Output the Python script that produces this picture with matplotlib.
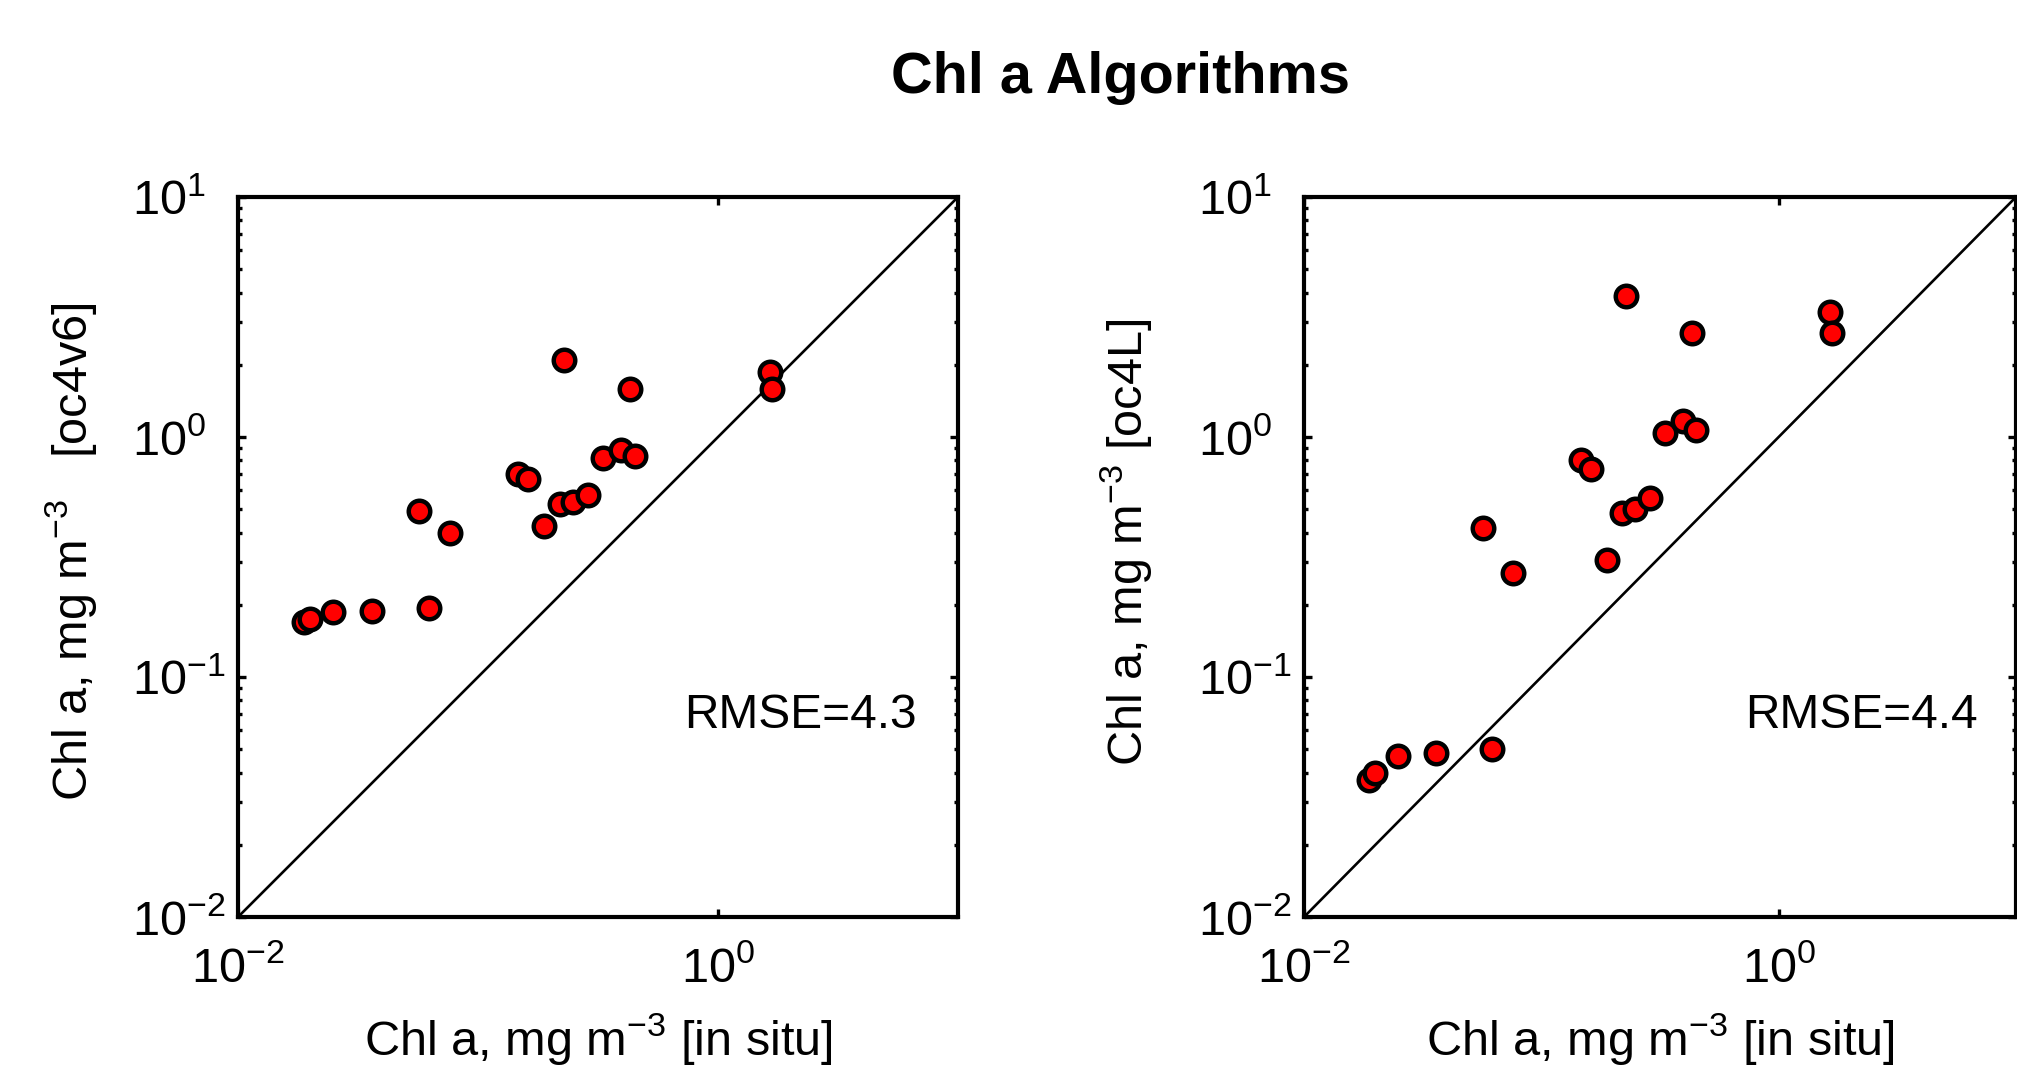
"""Chl a algorithm comparison: satellite retrieval vs in situ chlorophyll."""

import matplotlib

matplotlib.use("Agg")
import matplotlib.pyplot as plt
from matplotlib.ticker import LogLocator, NullFormatter, NullLocator

plt.rcParams["font.family"] = ["Liberation Sans", "DejaVu Sans"]
plt.rcParams["mathtext.fontset"] = "custom"
plt.rcParams["mathtext.rm"] = "Liberation Sans"
plt.rcParams["mathtext.it"] = "Liberation Sans:italic"
plt.rcParams["mathtext.bf"] = "Liberation Sans:bold"

# in situ Chl a (mg m^-3), shared by both panels
in_situ = [0.0188, 0.0200, 0.0248, 0.0360, 0.0570, 0.0622, 0.0763, 0.147, 0.162, 0.189,
           0.219, 0.228, 0.248, 0.287, 0.333, 0.394, 0.430, 0.449, 1.64, 1.68]
# retrieved Chl a, oc4v6
oc4v6 = [0.170, 0.175, 0.186, 0.188, 0.491, 0.193, 0.398, 0.701, 0.667, 0.424,
         0.528, 2.10, 0.537, 0.573, 0.820, 0.883, 1.59, 0.834, 1.87, 1.58]
# retrieved Chl a, oc4L
oc4l = [0.0371, 0.0399, 0.0468, 0.0481, 0.419, 0.0502, 0.271, 0.802, 0.734, 0.308,
        0.482, 3.87, 0.500, 0.556, 1.04, 1.17, 2.70, 1.07, 3.32, 2.70]

rmse_labels = ["RMSE=4.3", "RMSE=4.4"]
y_labels = [r"Chl a, mg m$^{-3}$   [oc4v6]", r"Chl a, mg m$^{-3}$ [oc4L]"]
x_label = r"Chl a, mg m$^{-3}$ [in situ]"
title = "Chl a Algorithms"

W, H = 2017, 1069
AX_BOTTOM, AX_H = 917, 720


def draw_panel(fig, left_px, width_px, yvals, ylabel, rmse, ylab_px, ylab_y):
    ax = fig.add_axes([left_px / W, (H - AX_BOTTOM) / H, width_px / W, AX_H / H])
    ax.set_xscale("log")
    ax.set_yscale("log")
    ax.plot([1e-2, 1e1], [1e-2, 1e1], color="black", lw=1.9, zorder=2)
    ax.plot(in_situ, yvals, "o", ms=15.5, mfc="red", mec="black", mew=3.2,
            zorder=3, clip_on=False)
    ax.set_xlim(1e-2, 1e1)
    ax.set_ylim(1e-2, 1e1)

    ax.set_xticks([1e-2, 1e0])
    ax.xaxis.set_minor_locator(NullLocator())
    ax.yaxis.set_major_locator(LogLocator(base=10, numticks=10))
    ax.yaxis.set_minor_locator(LogLocator(base=10, subs=range(2, 10), numticks=20))
    ax.yaxis.set_minor_formatter(NullFormatter())

    ax.tick_params(which="both", direction="in", top=True, right=True,
                   width=2.4, color="black", labelsize=35)
    ax.tick_params(which="major", length=5.5)
    ax.tick_params(which="minor", length=2.6)
    ax.tick_params(axis="x", pad=21)
    ax.tick_params(axis="y", pad=76)
    plt.setp(ax.get_yticklabels(), ha="left")
    for sp in ax.spines.values():
        sp.set_linewidth(3.0)

    ax.set_xlabel(x_label, fontsize=35, va="baseline")
    ax.xaxis.set_label_coords(0.5, (AX_BOTTOM - 1055) / AX_H)
    ax.set_ylabel(ylabel, fontsize=35, va="baseline")
    ax.yaxis.set_label_coords((ylab_px - left_px) / width_px, ylab_y)

    ax.text(0.62, 0.263, rmse, transform=ax.transAxes, fontsize=34.5,
            ha="left", va="baseline")
    return ax


def main() -> None:
    fig = plt.figure(figsize=(W / 100, H / 100), dpi=100)
    fig.patch.set_facecolor("white")
    draw_panel(fig, 238, 720, oc4v6, y_labels[0], rmse_labels[0], 87, 0.507)
    draw_panel(fig, 1304, 712, oc4l, y_labels[1], rmse_labels[1], 1142, 0.52)
    fig.text(1120 / W, (H - 93) / H, title, ha="center", va="baseline",
             fontsize=41.5, fontweight="bold")
    fig.savefig("out.png", dpi=100)
    plt.close(fig)


if __name__ == "__main__":
    main()
